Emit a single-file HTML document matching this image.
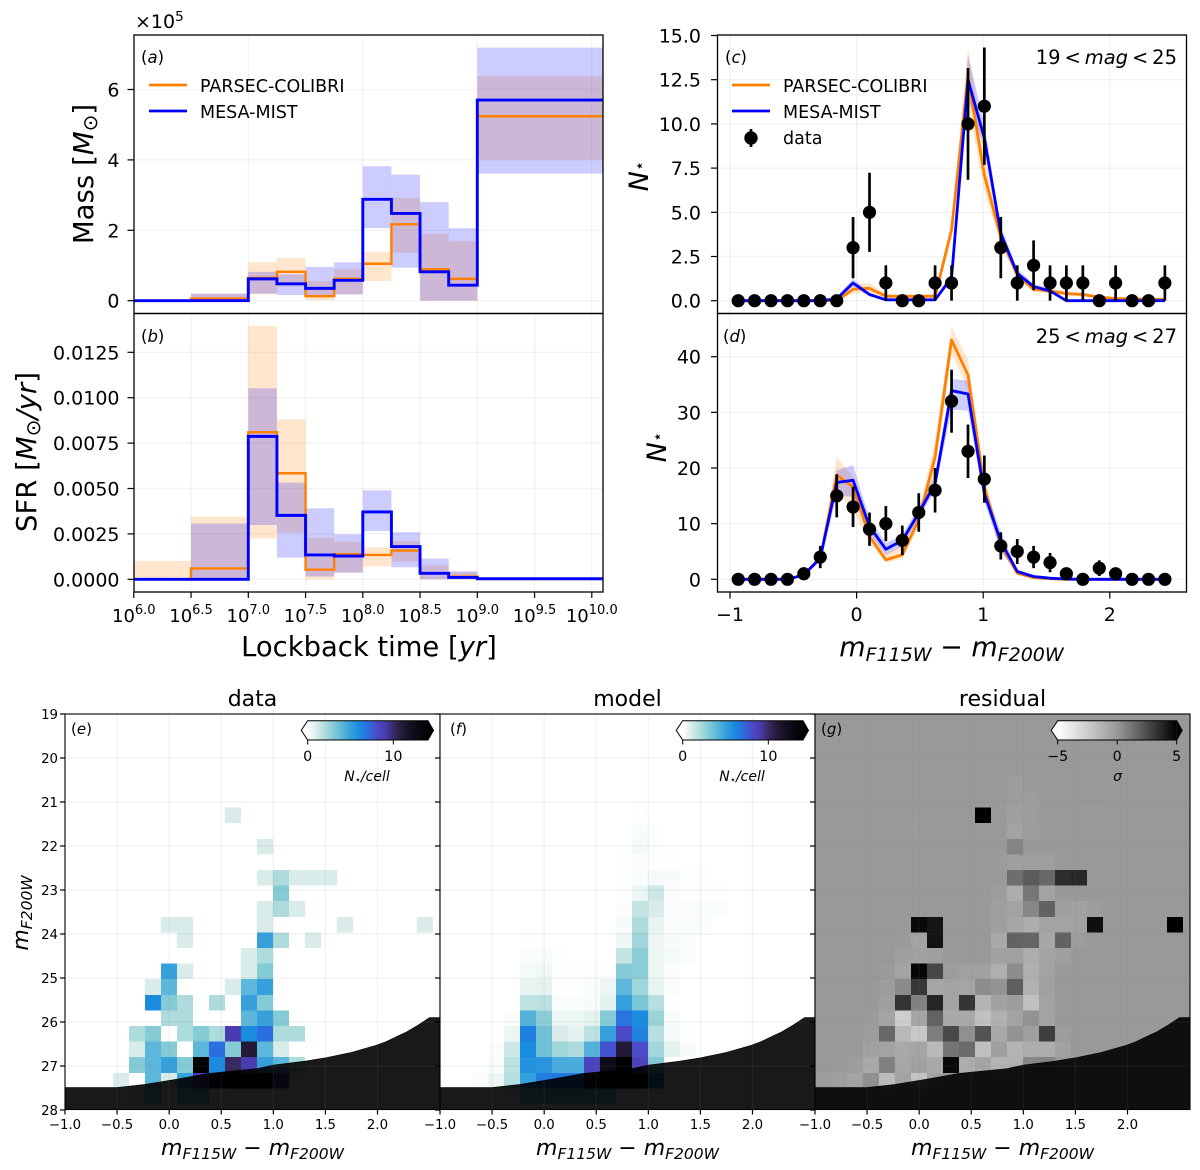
<!DOCTYPE html>
<html><head><meta charset="utf-8"><title>Star formation history figure</title>
<style>
html,body{margin:0;padding:0;background:#fff}
svg{display:block}
text{font-family:"DejaVu Sans","Liberation Sans",sans-serif;fill:#000}
.it{font-style:italic}
</style></head>
<body>
<svg id="figure" xmlns="http://www.w3.org/2000/svg" width="1200" height="1170" viewBox="0 0 1200 1170">
<defs>
<clipPath id="clip-a"><rect x="134" y="35" width="469" height="278.5"/></clipPath>
<clipPath id="clip-b"><rect x="134" y="313.5" width="469" height="278.5"/></clipPath>
<clipPath id="clip-c"><rect x="717.5" y="35" width="469" height="278.5"/></clipPath>
<clipPath id="clip-d"><rect x="717.5" y="313.5" width="469" height="278.5"/></clipPath>
<clipPath id="clip-e"><rect x="65" y="714" width="375" height="395.5"/></clipPath>
<clipPath id="clip-f"><rect x="440" y="714" width="375" height="395.5"/></clipPath>
<clipPath id="clip-g"><rect x="815" y="714" width="375" height="395.5"/></clipPath>
<linearGradient id="grad-count" x1="0" x2="1" y1="0" y2="0"></linearGradient>
<linearGradient id="grad-sigma" x1="0" x2="1" y1="0" y2="0"><stop offset="0" stop-color="#fff"/><stop offset="0.5" stop-color="#999"/><stop offset="1" stop-color="#000"/></linearGradient>
</defs>

<!-- Panel a -->
<g>
<g id="a-plot" clip-path="url(#clip-a)"></g>
<g id="a-ticks"></g>
<rect x="134" y="35" width="469" height="278.5" fill="none" stroke="#000" stroke-width="1.3"/>
<text x="141" y="63" font-size="16.5"><tspan>(</tspan><tspan class="it">a</tspan><tspan>)</tspan></text>
<text x="135" y="28" font-size="19">×10<tspan dy="-7" font-size="13.5">5</tspan></text>
<text transform="translate(93,174) rotate(-90)" text-anchor="middle" font-size="27.6">Mass [<tspan class="it">M</tspan><tspan dy="4" font-size="20">⊙</tspan><tspan dy="-4">]</tspan></text>
<line x1="149" x2="187" y1="85" y2="85" stroke="#ff8000" stroke-width="2.8"/>
<text x="200" y="92" font-size="17.5">PARSEC-COLIBRI</text>
<line x1="149" x2="187" y1="111" y2="111" stroke="#0000ff" stroke-width="2.8"/>
<text x="200" y="118" font-size="17.5">MESA-MIST</text>
</g>

<!-- Panel b -->
<g>
<g id="b-plot" clip-path="url(#clip-b)"></g>
<g id="b-ticks"></g>
<rect x="134" y="313.5" width="469" height="278.5" fill="none" stroke="#000" stroke-width="1.3"/>
<text x="141" y="342" font-size="16.5"><tspan>(</tspan><tspan class="it">b</tspan><tspan>)</tspan></text>
<text transform="translate(36,452) rotate(-90)" text-anchor="middle" font-size="27.5">SFR [<tspan class="it">M</tspan><tspan dy="4" font-size="20">⊙</tspan><tspan dy="-4" class="it">/yr</tspan>]</text>
<text x="369" y="656" text-anchor="middle" font-size="27.4">Lockback time [<tspan class="it">yr</tspan>]</text>
</g>

<!-- Panel c -->
<g>
<g id="c-plot" clip-path="url(#clip-c)"></g>
<g id="c-ticks"></g>
<rect x="717.5" y="35" width="469" height="278.5" fill="none" stroke="#000" stroke-width="1.3"/>
<text x="725" y="63" font-size="16.5"><tspan>(</tspan><tspan class="it">c</tspan><tspan>)</tspan></text>
<text x="1177" y="64" text-anchor="end" font-size="19.5">19&#8201;&lt;&#8201;<tspan class="it">mag</tspan>&#8201;&lt;&#8201;25</text>
<text transform="translate(648,176) rotate(-90)" text-anchor="middle" font-size="27"><tspan class="it">N</tspan><tspan dy="-3" font-size="17">⋆</tspan></text>
<line x1="732" x2="770" y1="85" y2="85" stroke="#ff8000" stroke-width="2.8"/>
<text x="783" y="92" font-size="17.5">PARSEC-COLIBRI</text>
<line x1="732" x2="770" y1="111" y2="111" stroke="#0000ff" stroke-width="2.8"/>
<text x="783" y="118" font-size="17.5">MESA-MIST</text>
<line x1="751" x2="751" y1="129" y2="147" stroke="#000" stroke-width="2.7"/>
<circle cx="751" cy="138" r="6.7" fill="#000"/>
<text x="783" y="144" font-size="17.5">data</text>
</g>

<!-- Panel d -->
<g>
<g id="d-plot" clip-path="url(#clip-d)"></g>
<g id="d-ticks"></g>
<rect x="717.5" y="313.5" width="469" height="278.5" fill="none" stroke="#000" stroke-width="1.3"/>
<text x="723" y="342" font-size="16.5"><tspan>(</tspan><tspan class="it">d</tspan><tspan>)</tspan></text>
<text x="1177" y="343" text-anchor="end" font-size="19.5">25&#8201;&lt;&#8201;<tspan class="it">mag</tspan>&#8201;&lt;&#8201;27</text>
<text transform="translate(666,447) rotate(-90)" text-anchor="middle" font-size="27"><tspan class="it">N</tspan><tspan dy="-3" font-size="17">⋆</tspan></text>
<text x="951.5" y="656" text-anchor="middle" font-size="27"><tspan class="it">m</tspan><tspan class="it" dy="5" font-size="19">F115W</tspan><tspan dy="-5"> − </tspan><tspan class="it">m</tspan><tspan class="it" dy="5" font-size="19">F200W</tspan></text>
</g>

<!-- Panel e -->
<g>
<g id="e-plot" clip-path="url(#clip-e)"></g>
<g id="e-ticks"></g>
<g id="e-cbar"></g>
<rect x="65" y="714" width="375" height="395.5" fill="none" stroke="#000" stroke-width="1.1"/>
<text x="71" y="734" font-size="15"><tspan>(</tspan><tspan class="it">e</tspan><tspan>)</tspan></text>
<text x="252.5" y="706" text-anchor="middle" font-size="22">data</text>
<text x="252.5" y="1155" text-anchor="middle" font-size="22"><tspan class="it">m</tspan><tspan class="it" dy="4" font-size="15.5">F115W</tspan><tspan dy="-4"> − </tspan><tspan class="it">m</tspan><tspan class="it" dy="4" font-size="15.5">F200W</tspan></text>
<text transform="translate(28,913) rotate(-90)" text-anchor="middle" font-size="22"><tspan class="it">m</tspan><tspan class="it" dy="4" font-size="15.5">F200W</tspan></text>
<text x="367" y="781" text-anchor="middle" font-size="14" class="it">N<tspan dy="2" font-size="10">⋆</tspan><tspan dy="-2">/cell</tspan></text>
</g>

<!-- Panel f -->
<g>
<g id="f-plot" clip-path="url(#clip-f)"></g>
<g id="f-ticks"></g>
<g id="f-cbar"></g>
<rect x="440" y="714" width="375" height="395.5" fill="none" stroke="#000" stroke-width="1.1"/>
<text x="450" y="734" font-size="15"><tspan>(</tspan><tspan class="it">f</tspan><tspan>)</tspan></text>
<text x="627.5" y="706" text-anchor="middle" font-size="22">model</text>
<text x="627.5" y="1155" text-anchor="middle" font-size="22"><tspan class="it">m</tspan><tspan class="it" dy="4" font-size="15.5">F115W</tspan><tspan dy="-4"> − </tspan><tspan class="it">m</tspan><tspan class="it" dy="4" font-size="15.5">F200W</tspan></text>
<text x="742" y="781" text-anchor="middle" font-size="14" class="it">N<tspan dy="2" font-size="10">⋆</tspan><tspan dy="-2">/cell</tspan></text>
</g>

<!-- Panel g -->
<g>
<g id="g-plot" clip-path="url(#clip-g)"></g>
<g id="g-ticks"></g>
<g id="g-cbar"></g>
<rect x="815" y="714" width="375" height="395.5" fill="none" stroke="#000" stroke-width="1.1"/>
<text x="821" y="734" font-size="15"><tspan>(</tspan><tspan class="it">g</tspan><tspan>)</tspan></text>
<text x="1002.5" y="706" text-anchor="middle" font-size="22">residual</text>
<text x="1002.5" y="1155" text-anchor="middle" font-size="22"><tspan class="it">m</tspan><tspan class="it" dy="4" font-size="15.5">F115W</tspan><tspan dy="-4"> − </tspan><tspan class="it">m</tspan><tspan class="it" dy="4" font-size="15.5">F200W</tspan></text>
<text x="1117.5" y="781" text-anchor="middle" font-size="14" class="it">σ</text>
</g>
</svg>

<script>
// ---------- Star formation history data (log-age bins) ----------
const ageEdges = [6,6.5,7,7.25,7.5,7.75,8,8.25,8.5,8.75,9,10.1];
const massParsec = [0,0.06,0.65,0.82,0.13,0.62,1.05,2.17,0.89,0.62,5.24];
const massParsecLow = [0,0,0.18,0.4,0.02,0.18,0.56,1.36,0,0,4.01];
const massParsecHigh = [0,0.2,1.09,1.22,0.56,0.89,1.39,2.92,1.9,1.69,6.38];
const massMist = [0,0,0.62,0.48,0.35,0.58,2.88,2.48,0.82,0.44,5.7];
const massMistLow = [0,0,0.2,0.16,0.16,0.18,2.06,0.94,0,0,3.61];
const massMistHigh = [0,0.2,0.82,0.75,0.96,1.09,3.82,3.58,2.8,2.06,7.19];
const sfrParsec = [0,0.0006,0.0081,0.00584,0.00053,0.00138,0.00134,0.00158,0.00033,0.00015,0.00003];
const sfrParsecLow = [0,0,0.00224,0.00257,0,0.00037,0.0007,0.00097,0,0,0];
const sfrParsecHigh = [0.00101,0.00345,0.01395,0.00881,0.00229,0.00207,0.00176,0.00211,0.00077,0.00039,0];
const sfrMist = [0,0,0.00787,0.00352,0.00134,0.00128,0.00371,0.0018,0.00033,0.0001,0.00003];
const sfrMistLow = [0,0,0.00299,0.00119,0.00015,0.00037,0.00266,0.00066,0,0,0];
const sfrMistHigh = [0,0.00307,0.01052,0.00532,0.00391,0.00248,0.0049,0.00259,0.00114,0.00044,0];

const massTicks = [0,2,4,6];
const sfrTicks = [0,0.0025,0.005,0.0075,0.01,0.0125];
const sfrTickLabels = ["0.0000","0.0025","0.0050","0.0075","0.0100","0.0125"];
const ageTicks = [6,6.5,7,7.5,8,8.5,9,9.5,10];
const ageTickLabels = ["6.0","6.5","7.0","7.5","8.0","8.5","9.0","9.5","10.0"];
const massGridAges = [7,8,9,10];

// ---------- Colour distributions ----------
const colorBins = [-0.935,-0.806,-0.676,-0.546,-0.417,-0.287,-0.157,-0.028,0.102,0.231,0.361,0.491,0.62,0.75,0.88,1.009,1.139,1.269,1.398,1.528,1.657,1.787,1.917,2.046,2.176,2.306,2.435];
const brightData = [0,0,0,0,0,0,0,3,5,1,0,0,1,1,10,11,3,1,2,1,1,1,0,1,0,0,1];
const brightErr = [0,0,0,0,0,0,0,1.73,2.24,1,0,0,1,1,3.16,3.32,1.73,1,1.41,1,1,1,0,1,0,0,1];
const brightParsec = [0,0,0,0,0,0,0,0.65,0.7,0.25,0.25,0.25,0.25,4,12.7,7.1,3.6,1.45,0.65,0.55,0.4,0.35,0.2,0.12,0.1,0.08,0.08];
const brightParsecLow = [0,0,0,0,0,0,0,0.4,0.45,0.15,0.15,0.15,0.15,3.6,11,6.2,3.2,1.2,0.5,0.4,0.3,0.25,0.12,0.07,0.05,0.04,0.04];
const brightParsecHigh = [0,0,0,0,0,0,0.1,0.95,1,0.4,0.35,0.35,0.4,4.5,14.3,8.3,4,1.7,0.8,0.7,0.55,0.45,0.3,0.2,0.17,0.14,0.14];
const brightMist = [0,0,0,0,0,0,0.1,1,0.35,0.05,0.05,0.05,0.05,1.3,12.5,9.2,3.8,1.55,0.8,0.55,0,0,0,0,0,0,0];
const brightMistLow = [0,0,0,0,0,0,0.05,0.8,0.25,0.02,0.02,0.02,0.02,1.1,11.4,8.6,3.3,1.35,0.65,0.45,0,0,0,0,0,0,0];
const brightMistHigh = [0,0,0,0,0,0,0.2,1.25,0.45,0.1,0.1,0.1,0.1,1.6,13.9,10,4.2,1.8,0.95,0.7,0,0,0,0,0,0,0];
const brightTicks = [0,2.5,5,7.5,10,12.5,15];
const brightTickLabels = ["0.0","2.5","5.0","7.5","10.0","12.5","15.0"];

const faintData = [0,0,0,0,1,4,15,13,9,10,7,12,16,32,23,18,6,5,4,3,1,0,2,1,0,0,0];
const faintErr = [0,0,0,0,1,2,3.87,3.61,3,3.16,2.65,3.46,4,5.66,4.8,4.24,2.45,2.24,2,1.73,1,0,1.41,1,0,0,0];
const faintParsec = [0,0,0,0,0.8,3.8,18.7,16.6,7.7,3.5,4.4,10.7,22,43,36.7,16.6,6.2,1.1,0.3,0.1,0,0,0,0,0,0,0];
const faintParsecLow = [0,0,0,0,0.6,3.2,16,12.5,6.5,3,3.6,9.5,19.5,40.6,34,14.5,5.2,0.9,0.2,0.05,0,0,0,0,0,0,0];
const faintParsecHigh = [0,0,0,0,1,4.4,22,18.4,9,4.7,6,12,25,45.4,39.4,18.5,7,1.4,0.4,0.15,0,0,0,0,0,0,0];
const faintMist = [0,0,0,0,0.8,3.8,17.4,17.8,9.5,5.4,7,11.9,17.2,33.9,33.3,15.4,6.8,1.4,0.5,0.2,0.05,0,0,0,0,0,0];
const faintMistLow = [0,0,0,0,0.6,3.3,14.9,14.9,8.2,4.4,5.9,10.9,16,30.5,30.3,14,5,1.1,0.4,0.1,0,0,0,0,0,0,0];
const faintMistHigh = [0,0,0,0,1,4.3,19.6,20.5,11,6.5,8,13,19,36,35.7,17,8.5,1.7,0.6,0.3,0.1,0,0,0,0,0,0];
const faintTicks = [0,10,20,30,40];
const colorTicks = [-1,0,1,2];
const colorTickLabels = ["−1","0","1","2"];

// ---------- Colour-magnitude diagrams (rows = magnitude bins top to bottom, cols = colour bins) ----------
const dataCells = [
[0,0,0,0,0,0,0,0,0,0,0,0,0,0,0,0,0,0,0,0,0,0,0,0],
[0,0,0,0,0,0,0,0,0,0,0,0,0,0,0,0,0,0,0,0,0,0,0,0],
[0,0,0,0,0,0,0,0,0,0,0,0,0,0,0,0,0,0,0,0,0,0,0,0],
[0,0,0,0,0,0,0,0,0,0,0,0,0,0,0,0,0,0,0,0,0,0,0,0],
[0,0,0,0,0,0,0,0,0,0,0,0,0,0,0,0,0,0,0,0,0,0,0,0],
[0,0,0,0,0,0,0,0,0,0,0,0,0,0,0,0,0,0,0,0,0,0,0,0],
[0,0,0,0,0,0,0,0,0,0,1,0,0,0,0,0,0,0,0,0,0,0,0,0],
[0,0,0,0,0,0,0,0,0,0,0,0,0,0,0,0,0,0,0,0,0,0,0,0],
[0,0,0,0,0,0,0,0,0,0,0,0,1,0,0,0,0,0,0,0,0,0,0,0],
[0,0,0,0,0,0,0,0,0,0,0,0,0,0,0,0,0,0,0,0,0,0,0,0],
[0,0,0,0,0,0,0,0,0,0,0,0,1,2,1,1,1,0,0,0,0,0,0,0],
[0,0,0,0,0,0,0,0,0,0,0,0,0,3,0,0,0,0,0,0,0,0,0,0],
[0,0,0,0,0,0,0,0,0,0,0,0,1,2,1,0,0,0,0,0,0,0,0,0],
[0,0,0,0,0,0,1,1,0,0,0,0,1,0,0,0,0,1,0,0,0,0,1,0],
[0,0,0,0,0,0,0,1,0,0,0,0,5,2,0,1,0,0,0,0,0,0,0,0],
[0,0,0,0,0,0,0,0,0,0,0,1,2,0,0,0,0,0,0,0,0,0,0,0],
[0,0,0,0,0,0,5,1,0,0,0,1,3,0,0,0,0,0,0,0,0,0,0,0],
[0,0,0,0,0,1,4,0,0,0,1,4,5,0,0,0,0,0,0,0,0,0,0,0],
[0,0,0,0,0,6,3,2,0,2,0,5,3,0,0,0,0,0,0,0,0,0,0,0],
[0,0,0,0,0,0,2,2,0,0,0,4,5,3,0,0,0,0,0,0,0,0,0,0],
[0,0,0,0,2,3,0,2,3,2,9,6,7,2,2,0,0,0,0,0,0,0,0,0],
[0,0,0,0,1,4,3,0,4,7,3,11,4,1,0,0,0,0,0,0,0,0,0,0],
[0,0,0,0,3,4,5,3,14,6,10,9,5,4,2,0,0,0,0,0,0,0,0,0],
[0,0,0,1,0,4,1,5,9,12,13,14,14,8,0,0,0,0,0,0,0,0,0,0],
[0,0,0,0,1,3,0,3,3,0,0,0,0,0,0,0,0,0,0,0,0,0,0,0],
[0,0,0,0,0,0,0,0,0,0,0,0,0,0,0,0,0,0,0,0,0,0,0,0]
];
const modelCells = [
[0,0,0,0,0,0,0,0,0,0,0,0,0,0,0,0,0,0,0,0,0,0,0,0],
[0,0,0,0,0,0,0,0,0,0,0,0,0,0,0,0,0,0,0,0,0,0,0,0],
[0,0,0,0,0,0,0,0,0,0,0,0,0,0,0,0,0,0,0,0,0,0,0,0],
[0,0,0,0,0,0,0,0,0,0,0,0,0,0,0,0,0,0,0,0,0,0,0,0],
[0,0,0,0,0,0,0,0,0,0,0,0,0,0,0,0,0,0,0,0,0,0,0,0],
[0,0,0,0,0,0,0,0,0,0,0,0,0,0,0,0,0,0,0,0,0,0,0,0],
[0,0,0,0,0,0,0,0,0,0,0,0,0.05,0,0,0,0,0,0,0,0,0,0,0],
[0,0,0,0,0,0,0,0,0,0,0,0,0.15,0.05,0,0,0,0,0,0,0,0,0,0],
[0,0,0,0,0,0,0,0,0,0,0,0,0.3,0.03,0,0,0,0,0,0,0,0,0,0],
[0,0,0,0,0,0,0,0,0,0,0,0.03,0.1,0.05,0.05,0,0,0,0,0,0,0,0,0],
[0,0,0,0,0,0,0,0,0,0,0,0.07,0.15,0.25,0.2,0.03,0.03,0,0,0,0,0,0,0],
[0,0,0,0,0,0,0,0,0,0,0,0.07,0.5,1.3,0.1,0.03,0.03,0.03,0.02,0,0,0,0,0],
[0,0,0,0,0,0,0,0,0,0,0,0.1,1.5,1,0.1,0.1,0.15,0.1,0,0,0,0,0,0],
[0,0,0,0,0,0,0,0,0,0,0,0.2,2,0.6,0.15,0.15,0.1,0,0,0,0,0,0,0],
[0,0,0,0,0,0.03,0.03,0,0,0,0,0.4,2.3,0.5,0.2,0.1,0,0,0,0,0,0,0,0],
[0,0,0,0,0,0.1,0.15,0.05,0,0,0,1.5,2.8,0.5,0.3,0.1,0,0,0,0,0,0,0,0],
[0,0,0,0,0,0.3,0.4,0.05,0.05,0.05,0.05,3,2.8,0.5,0.1,0,0,0,0,0,0,0,0,0],
[0,0,0,0,0,0.6,0.7,0.05,0.05,0.15,0.5,4,2.3,0.6,0.1,0,0,0,0,0,0,0,0,0],
[0,0,0,0,0,1.6,1.7,0.15,0.1,0.2,0.7,5,3.2,1.8,0.05,0,0,0,0,0,0,0,0,0],
[0,0,0,0,0.1,4.2,2.8,0.5,0.5,0.7,3,6.8,6,2.5,0.2,0,0,0,0,0,0,0,0,0],
[0,0,0,0,0.5,6.4,3.5,1,0.7,1.7,5,8.2,6.3,1.8,0.3,0.05,0,0,0,0,0,0,0,0],
[0,0,0,0.1,1.3,6,3.5,2.3,2,4.2,7.8,11,8,2.3,0.7,0.2,0,0,0,0,0,0,0,0],
[0,0,0,0.2,1.7,5.7,5.5,4.5,4.5,8.5,12.5,14,8.5,3,0,0,0,0,0,0,0,0,0,0],
[0,0,0.1,0.5,1.8,5,6.5,6.7,6.7,11,13,14,14,6,0,0,0,0,0,0,0,0,0,0],
[0,0,0,0,0,3,3,3,3,3,3,0,0,0,0,0,0,0,0,0,0,0,0,0],
[0,0,0,0,0,0,0,0,0,0,0,0,0,0,0,0,0,0,0,0,0,0,0,0]
];
const residualCells = [
[0,0,0,0,0,0,0,0,0,0,0,0,0,0,0,0,0,0,0,0,0,0,0,0],
[0,0,0,0,0,0,0,0,0,0,0,0,0,0,0,0,0,0,0,0,0,0,0,0],
[0,0,0,0,0,0,0,0,0,0,0,0,0,0,0,0,0,0,0,0,0,0,0,0],
[0,0,0,0,0,0,0,0,0,0,0,0,0,0,0,0,0,0,0,0,0,0,0,0],
[0,0,0,0,0,0,0,0,0,0,0,0,-0.2,0,0,0,0,0,0,0,0,0,0,0],
[0,0,0,0,0,0,0,0,0,0,0,0,-0.2,-0.2,0,0,0,0,0,0,0,0,0,0],
[0,0,0,0,0,0,0,0,0,0,5,0,-0.3,-0.2,0,0,0,-0.1,0,0,0,0,0,0],
[0,0,0,0,0,0,-0.1,0,0,0,0,0,-0.5,-0.2,-0.1,0,0,0,0,0,0,0,0,0],
[0,0,0,0,0,0,0,0,0,0,0,0,0.7,0,0,0,0,0,0,0,0,0,0,0],
[0,0,0,0,0,0,0,0,0,0,0,-0.1,-0.3,-0.3,-0.3,0,0,0,0,0,0,0,0,0],
[0,0,0,0,0,-0.1,0,0,0,0,0,0,1.4,2,1.6,3.5,3.7,0,0,0,0,0,0,0],
[0,0,0,0,0,0,0,0,0,0,0,-0.2,-1,1.1,-0.5,0,0,0,0,0,0,0,0,0],
[0,0,0,0,0,0,0,0,0,0,0,-0.3,-0.5,0.6,1.8,-0.3,-0.4,-0.2,0,0,0,0,0,0],
[0,0,0,0,0,0,4.7,4.3,0,0,0,-0.3,-0.7,-1,-0.5,-0.5,-0.4,4.5,0,0,0,0,5,0],
[0,0,0,0,0,-0.1,-0.5,4.4,0,0,0,-0.8,1.8,1.7,-0.7,1.8,-0.2,0,0,0,0,0,0,0],
[0,0,0,0,0,-0.3,-0.4,-0.3,0,0,0,-0.4,-0.4,-1,-0.5,-0.3,0,0,0,0,0,0,0,0],
[0,0,0,0,-0.1,-0.5,4.8,2.7,-0.2,-0.4,-0.4,-1.1,0.4,-1.1,-0.5,0,0,0,0,0,0,0,0,0],
[0,0,0,0,-0.2,0.5,3.2,-0.6,-0.5,-0.6,0.4,0.2,1.9,-1.2,-0.4,0,0,0,0,0,0,0,0,0],
[0,0,0,0,-0.3,3.3,0.8,3.8,-0.5,3.3,-1.3,-0.4,-0.2,-1.9,-0.5,0,0,0,0,0,0,0,0,0],
[0,0,0,-0.1,-0.6,-2.6,-0.6,1.8,-0.8,-0.8,-1.9,-1.2,-0.5,0.2,-0.5,0,0,0,0,0,0,0,0,0],
[0,0,0,-0.2,1.6,-1.5,-2.3,0.9,2.6,0.3,2.3,-0.8,0.2,-0.3,3,-0.2,0,0,0,0,0,0,0,0],
[0,0,0,-0.4,-0.5,-0.8,-0.6,-1.6,1.2,1.5,-1.9,-0.3,-1.3,-1,-1,-0.4,0,0,0,0,0,0,0,0],
[0,-0.1,-0.2,-0.8,0.8,-0.7,-0.4,-0.8,4.7,-1,-0.6,-1.3,-1.2,0.6,0.7,0,0,0,0,0,0,0,0,0],
[-0.2,-0.3,-0.5,0.3,-1.7,-0.5,-2.1,-0.5,0,0,0,0,0,0,0,0,0,0,0,0,0,0,0,0],
[0,0,0,0,0,0,0,0,0,0,0,0,0,0,0,0,0,0,0,0,0,0,0,0],
[0,0,0,0,0,0,0,0,0,0,0,0,0,0,0,0,0,0,0,0,0,0,0,0]
];
const maskColor = [-1,-0.5,-0.232,0.075,0.382,0.843,0.996,1.303,1.508,1.75,1.988,2.08,2.15,2.22,2.276,2.39,2.5,2.6];
const maskMag = [27.49,27.49,27.42,27.3,27.17,27.06,26.98,26.89,26.81,26.69,26.53,26.45,26.37,26.29,26.23,26.07,25.9,25.9];
const cmdColorTicks = [-1,-0.5,0,0.5,1,1.5,2];
const cmdColorTickLabels = ["−1.0","−0.5","0.0","0.5","1.0","1.5","2.0"];
const cmdMagTicks = [19,20,21,22,23,24,25,26,27,28];
const countBarTicks = [0,10];
const sigmaBarTicks = [-5,0,5];
const sigmaBarLabels = ["−5","0","5"];
const countMapValues = [0,1,2,3,4,5,6,7,8,9,10,11,12,14];
const countMapColors = ["#ffffff","#d9ecea","#aedcdc","#84cbd6","#5cb7da","#36a0dc","#1a8ce0","#2a6ee0","#4a4cc8","#4a3cb0","#382a60","#241a38","#121020","#000000"];

// ---------- helpers ----------
const NS = "http://www.w3.org/2000/svg";
function mk(parent, tag, attrs, text) {
  const el = document.createElementNS(NS, tag);
  for (const k in attrs) el.setAttribute(k, attrs[k]);
  if (text !== undefined) el.textContent = text;
  parent.appendChild(el);
  return el;
}
function linear(d0, d1, r0, r1) {
  return v => r0 + (v - d0) * (r1 - r0) / (d1 - d0);
}
const GRID = "rgba(128,128,128,0.11)";

function drawHGrid(g, ticks, scale, x0, x1) {
  ticks.forEach(t => {
    const el = mk(g, "line", {x1: x0, x2: x1, y1: scale(t), y2: scale(t), stroke: GRID, "stroke-width": 1.2});
    
    
  });
}
function drawVGrid(g, ticks, scale, y0, y1) {
  ticks.forEach(t => {
    const el = mk(g, "line", {x1: scale(t), x2: scale(t), y1: y0, y2: y1, stroke: GRID, "stroke-width": 1.2});
    
    
  });
}
function drawYTicks(g, ticks, labels, scale, x, size, len, gap, dyB) {
  ticks.forEach((t, i) => {
    const y = scale(t);
    const tk = mk(g, "line", {x1: x - len, x2: x, y1: y, y2: y, stroke: "#000", "stroke-width": 1.2});
    
    
    if (labels) {
      const lb = mk(g, "text", {x: x - len - gap, y: y + dyB, "text-anchor": "end", "font-size": size}, labels[i]);
      
      
    }
  });
}
function drawXTicks(g, ticks, labels, scale, y, size, len, baseY) {
  ticks.forEach((t, i) => {
    const x = scale(t);
    const tk = mk(g, "line", {x1: x, x2: x, y1: y, y2: y + len, stroke: "#000", "stroke-width": 1.2});
    
    
    if (labels) {
      const lb = mk(g, "text", {x: x, y: baseY, "text-anchor": "middle", "font-size": size}, labels[i]);
      
      
    }
  });
}
function drawBinBand(g, edges, low, high, color, xs, ys) {
  low.forEach((lo, i) => {
    if (high[i] === lo) return;
    const r = mk(g, "rect", {x: xs(edges[i]), width: xs(edges[i + 1]) - xs(edges[i]), y: ys(high[i]), height: ys(lo) - ys(high[i]), fill: color, "fill-opacity": 0.2});
    
    
  });
}
function drawStep(g, edges, values, color, xs, ys, width) {
  let d = "";
  values.forEach((v, i) => {
    d += (i === 0 ? "M" : "L") + xs(edges[i]) + " " + ys(v) + " L" + xs(edges[i + 1]) + " " + ys(v) + " ";
  });
  const p = mk(g, "path", {d: d, fill: "none", stroke: color, "stroke-width": width, "stroke-linejoin": "miter"});
  
  
}
function drawArea(g, xv, low, high, color, xs, ys) {
  let d = "";
  xv.forEach((x, i) => { d += (i === 0 ? "M" : "L") + xs(x) + " " + ys(high[i]) + " "; });
  for (let i = xv.length - 1; i >= 0; i--) d += "L" + xs(xv[i]) + " " + ys(low[i]) + " ";
  const p = mk(g, "path", {d: d + "Z", fill: color, "fill-opacity": 0.2});
  
  
}
function drawLine(g, xv, yv, color, xs, ys, width) {
  const pts = xv.map((x, i) => xs(x) + "," + ys(yv[i])).join(" ");
  const p = mk(g, "polyline", {points: pts, fill: "none", stroke: color, "stroke-width": width, "stroke-linejoin": "round"});
  
  
}
function drawPoints(g, xv, yv, err, xs, ys) {
  xv.forEach((x, i) => {
    if (err[i] > 0) {
      const e = mk(g, "line", {x1: xs(x), x2: xs(x), y1: ys(yv[i] - err[i]), y2: ys(yv[i] + err[i]), stroke: "#000", "stroke-width": 2.7});
      
      
    }
    const c = mk(g, "circle", {cx: xs(x), cy: ys(yv[i]), r: 6.6, fill: "#000"});
    
    
  });
}
function countColor(v) {
  const a = countMapValues;
  if (v <= a[0]) return countMapColors[0];
  for (let i = 1; i < a.length; i++) {
    if (v <= a[i]) {
      const f = (v - a[i - 1]) / (a[i] - a[i - 1]);
      const p = countMapColors[i - 1], q = countMapColors[i];
      const ch = j => Math.round(parseInt(p.substr(j, 2), 16) * (1 - f) + parseInt(q.substr(j, 2), 16) * f);
      return "rgb(" + ch(1) + "," + ch(3) + "," + ch(5) + ")";
    }
  }
  return "#000000";
}
function sigmaColor(v) {
  const s = Math.max(-5, Math.min(5, v));
  const l = Math.round(s >= 0 ? 153 * (1 - s / 5) : 153 + 102 * (-s / 5));
  return "rgb(" + l + "," + l + "," + l + ")";
}
const COL_W = 0.1536, MAG_H = 0.3545;
function drawCmd(plot, ticks, left, cells, colorFn, ticksOn) {
  const xs = linear(-1, 2.6, left, left + 375);
  const ys = linear(19, 28, 714, 1110);
  cells.forEach((row, i) => {
    row.forEach((v, c) => {
      const r = mk(plot, "rect", {x: xs(-1 + c * COL_W), y: ys(19 + i * MAG_H), width: xs(-1 + (c + 1) * COL_W) - xs(-1 + c * COL_W) + 0.3, height: ys(19 + (i + 1) * MAG_H) - ys(19 + i * MAG_H) + 0.3, fill: colorFn(v), "shape-rendering": "crispEdges"});
      
      
    });
  });
  let d = "M" + xs(-1) + " " + ys(28.1);
  maskColor.forEach((c, i) => { d += " L" + xs(c) + " " + ys(maskMag[i]); });
  d += " L" + xs(2.6) + " " + ys(28.1) + " Z";
  const m = mk(plot, "path", {d: d, fill: "#000", "fill-opacity": 0.9, stroke: "#000", "stroke-width": 0.6});
  
  
  drawHGrid(plot, cmdMagTicks.slice(1, -1), ys, left, left + 375);
  drawVGrid(plot, cmdColorTicks.slice(1), xs, 714, 1110);
  drawYTicks(ticks, cmdMagTicks, ticksOn ? cmdMagTicks.map(String) : null, ys, left, 13.3, 5, 2, 5);
  drawXTicks(ticks, cmdColorTicks, cmdColorTickLabels, xs, 1109.5, 13.3, 5, 1129);
}
function drawColorbar(g, x0, x1, fill, tickVals, tickLabels, scale) {
  const y0 = 720.7, y1 = 740;
  const body = mk(g, "rect", {x: x0, y: y0, width: x1 - x0, height: y1 - y0, fill: fill});
  
  
  const lo = mk(g, "polygon", {points: x0 + "," + y0 + " " + (x0 - 6.5) + "," + ((y0 + y1) / 2) + " " + x0 + "," + y1, fill: "#fff"});
  
  
  const hi = mk(g, "polygon", {points: x1 + "," + y0 + " " + (x1 + 5.5) + "," + ((y0 + y1) / 2) + " " + x1 + "," + y1, fill: "#000"});
  
  
  const o = mk(g, "polygon", {points: x0 + "," + y0 + " " + x1 + "," + y0 + " " + (x1 + 5.5) + "," + ((y0 + y1) / 2) + " " + x1 + "," + y1 + " " + x0 + "," + y1 + " " + (x0 - 6.5) + "," + ((y0 + y1) / 2), fill: "none", stroke: "#000", "stroke-width": 1});
  
  
  tickVals.forEach((t, i) => {
    const x = scale(t);
    const tk = mk(g, "line", {x1: x, x2: x, y1: y1, y2: y1 + 4.5, stroke: "#000", "stroke-width": 1});
    
    
    const lb = mk(g, "text", {x: x, y: 761, "text-anchor": "middle", "font-size": 14.3}, tickLabels[i]);
    
    
  });
}

// ---------- build ----------
const $ = id => document.getElementById(id);
const ORANGE = "#ff8000", BLUE = "#0000ff";
const xAge = linear(6, 10, 133.8, 591.8);

// panel a
const yMass = linear(0, 6, 300.7, 89.5);
drawHGrid($("a-plot"), massTicks, yMass, 134, 603);
drawVGrid($("a-plot"), massGridAges, xAge, 35, 313.5);
drawBinBand($("a-plot"), ageEdges, massParsecLow, massParsecHigh, ORANGE, xAge, yMass);
drawBinBand($("a-plot"), ageEdges, massMistLow, massMistHigh, BLUE, xAge, yMass);
drawStep($("a-plot"), ageEdges, massParsec, ORANGE, xAge, yMass, 2.4);
drawStep($("a-plot"), ageEdges, massMist, BLUE, xAge, yMass, 2.9);
drawYTicks($("a-ticks"), massTicks, massTicks.map(String), yMass, 134, 19, 6.5, 8, 7);

// panel b
const ySfr = linear(0, 0.0125, 579.3, 352.3);
drawHGrid($("b-plot"), sfrTicks, ySfr, 134, 603);
drawVGrid($("b-plot"), ageTicks, xAge, 313.5, 592);
drawBinBand($("b-plot"), ageEdges, sfrParsecLow, sfrParsecHigh, ORANGE, xAge, ySfr);
drawBinBand($("b-plot"), ageEdges, sfrMistLow, sfrMistHigh, BLUE, xAge, ySfr);
drawStep($("b-plot"), ageEdges, sfrParsec, ORANGE, xAge, ySfr, 2.4);
drawStep($("b-plot"), ageEdges, sfrMist, BLUE, xAge, ySfr, 2.9);
drawYTicks($("b-ticks"), sfrTicks, sfrTickLabels, ySfr, 134, 19, 6.5, 8, 7);
ageTicks.forEach((t, i) => {
  const x = xAge(t);
  const tk = mk($("b-ticks"), "line", {x1: x, x2: x, y1: 592, y2: 598, stroke: "#000", "stroke-width": 1.2});
  
  
  const lb = mk($("b-ticks"), "text", {x: x, y: 622, "text-anchor": "middle", "font-size": 18});
  
  
  mk(lb, "tspan", {}, "10");
  mk(lb, "tspan", {dy: -8, "font-size": 13}, ageTickLabels[i]);
});

// panel c
const xCol = linear(-1, 2, 730, 1109.8);
const yBright = linear(0, 15, 300.7, 35.5);
drawHGrid($("c-plot"), brightTicks, yBright, 717.5, 1186.5);
drawVGrid($("c-plot"), colorTicks, xCol, 35, 313.5);
drawArea($("c-plot"), colorBins, brightParsecLow, brightParsecHigh, ORANGE, xCol, yBright);
drawArea($("c-plot"), colorBins, brightMistLow, brightMistHigh, BLUE, xCol, yBright);
drawLine($("c-plot"), colorBins, brightParsec, ORANGE, xCol, yBright, 2.8);
drawLine($("c-plot"), colorBins, brightMist, BLUE, xCol, yBright, 2.8);
drawPoints($("c-plot"), colorBins, brightData, brightErr, xCol, yBright);
drawYTicks($("c-ticks"), brightTicks, brightTickLabels, yBright, 717.5, 19, 6.5, 10, 7);

// panel d
const yFaint = linear(0, 40, 579.3, 356.7);
drawHGrid($("d-plot"), faintTicks, yFaint, 717.5, 1186.5);
drawVGrid($("d-plot"), colorTicks, xCol, 313.5, 592);
drawArea($("d-plot"), colorBins, faintParsecLow, faintParsecHigh, ORANGE, xCol, yFaint);
drawArea($("d-plot"), colorBins, faintMistLow, faintMistHigh, BLUE, xCol, yFaint);
drawLine($("d-plot"), colorBins, faintParsec, ORANGE, xCol, yFaint, 2.8);
drawLine($("d-plot"), colorBins, faintMist, BLUE, xCol, yFaint, 2.8);
drawPoints($("d-plot"), colorBins, faintData, faintErr, xCol, yFaint);
drawYTicks($("d-ticks"), faintTicks, faintTicks.map(String), yFaint, 717.5, 19, 6.5, 10, 7);
drawXTicks($("d-ticks"), colorTicks, colorTickLabels, xCol, 592, 19, 6.5, 621);

// CMD panels
const grad = $("grad-count");
countMapValues.forEach((v, i) => {
  mk(grad, "stop", {offset: v / 14, "stop-color": countMapColors[i]});
});
drawCmd($("e-plot"), $("e-ticks"), 65, dataCells, countColor, true);
drawCmd($("f-plot"), $("f-ticks"), 440, modelCells, countColor, false);
drawCmd($("g-plot"), $("g-ticks"), 815, residualCells, sigmaColor, false);
drawColorbar($("e-cbar"), 307.7, 428, "url(#grad-count)", countBarTicks, countBarTicks.map(String), linear(0, 14.05, 307.7, 428));
drawColorbar($("f-cbar"), 682.7, 803, "url(#grad-count)", countBarTicks, countBarTicks.map(String), linear(0, 14.05, 682.7, 803));
drawColorbar($("g-cbar"), 1057.7, 1176.7, "url(#grad-sigma)", sigmaBarTicks, sigmaBarLabels, linear(-5, 5, 1057.7, 1176.7));
</script>
</body></html>
